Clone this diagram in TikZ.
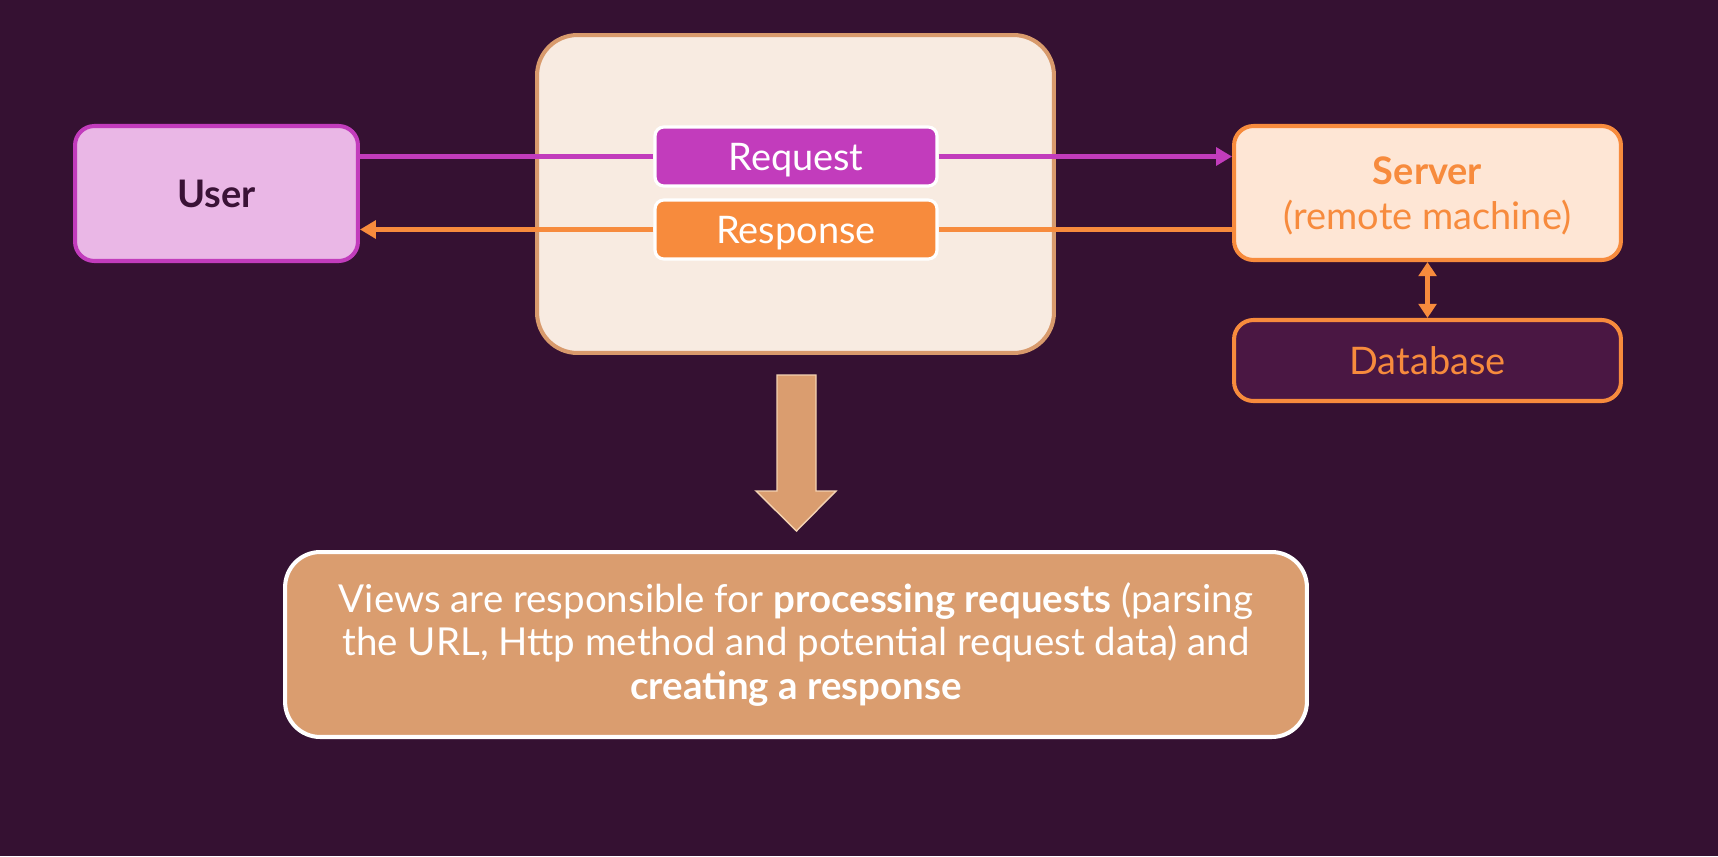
\documentclass[tikz,border=0pt]{standalone}
\usepackage{fontspec}
\setmainfont{Lato}
\usetikzlibrary{arrows.meta,calc}
\definecolor{bgpurple}{HTML}{351132}
\definecolor{userfill}{HTML}{EAB7E6}
\definecolor{magenta}{HTML}{C23CBC}
\definecolor{userink}{HTML}{3A1236}
\definecolor{viewfill}{HTML}{F8EBE1}
\definecolor{viewedge}{HTML}{D89A6C}
\definecolor{orange}{HTML}{F78B3D}
\definecolor{serverfill}{HTML}{FEE6D5}
\definecolor{dbfill}{HTML}{4A1743}
\definecolor{notefill}{HTML}{DA9D6F}
\definecolor{arrowedge}{HTML}{F3D2B2}
\tikzset{
  box/.style={draw, rounded corners=11pt, line width=2.3pt, align=center, inner sep=0pt, font=\fontsize{21.6}{26}\selectfont},
  tag/.style={box, draw=white, rounded corners=5pt, line width=1.8pt, text=white, text depth=0pt, minimum width=5.64cm, minimum height=1.18cm},
  wire/.style={line width=2.8pt, -{Triangle[length=9pt,width=10pt]}},
}
\begin{document}
\begin{tikzpicture}[x=0.02cm, y=-0.02cm]
			%%%%% START %%%%%
			
			\useasboundingbox (0, 0) rectangle (1718, 856);
			\fill[bgpurple] (0, 0) rectangle (1718, 856);
			
			\node[box, draw=viewedge, fill=viewfill, rounded corners=23pt, minimum width=10.34cm, minimum height=6.36cm] (views) at (795.5, 194) {};
			
			\node[box, draw=magenta, fill=userfill, text=userink, minimum width=5.66cm, minimum height=2.7cm] (user) at (216.5, 193.5) {\textbf{User}};
			
			\node[box, draw=orange, fill=serverfill, text=orange, text depth=0pt, minimum width=7.74cm, minimum height=2.68cm] (server) at (1427.5, 193) {\textbf{Server}\\(remote machine)};
			
			\node[box, draw=orange, fill=dbfill, text=orange, minimum width=7.74cm, minimum height=1.62cm] (db) at (1427.5, 360.5) {Database};
			
			\node[tag, fill=magenta] (req) at (796, 156.5) {Request};
			\node[tag, fill=orange] (resp) at (796, 229.5) {Response};
			
			\draw[wire, magenta, -] (user.east |- req.west) -- (req.west);
			\draw[wire, magenta] (req.east) -- (req.east -| server.west);
			\draw[wire, orange, -] (resp.east -| server.west) -- (resp.east);
			\draw[wire, orange] (resp.west) -- (resp.west -| user.east);
			\draw[wire, orange, {Triangle[length=8pt,width=10pt]}-{Triangle[length=8pt,width=10pt]}] (server.south) -- (db.north);
			
			\draw[fill=notefill, draw=arrowedge, line width=0.8pt] (777, 375) -- (816, 375) -- (816, 491) -- (836, 491) -- (796.5, 531) -- (756, 491) -- (777, 491) -- cycle;
			
			\node[box, draw=white, fill=notefill, text=white, rounded corners=20pt, minimum width=20.44cm, minimum height=3.7cm, font=\fontsize{21.9}{24.5}\selectfont] (note) at (796, 644.5) {Views are responsible for \textbf{processing requests} (parsing\\the URL, Http method and potential request data) and\\\textbf{creating a response}};
			
			%%%%% END %%%%%
\end{tikzpicture}
\end{document}
